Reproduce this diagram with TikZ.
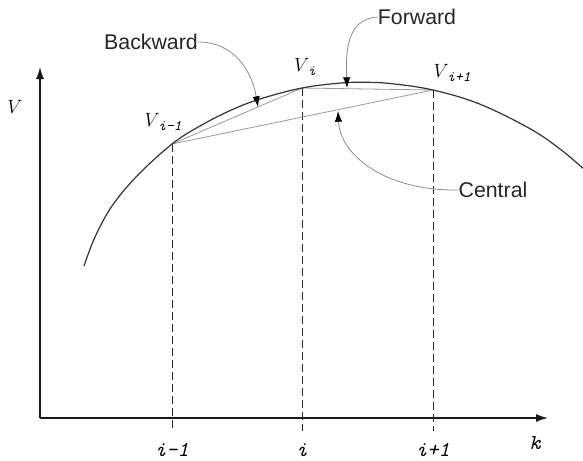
\documentclass[tikz,border=0pt]{standalone}
\usepackage{fontspec}
\newfontfamily\labelfont{Liberation Sans}
\usetikzlibrary{arrows.meta}
\newcommand\vsubtxt[1]{{\fontsize{11}{12}\selectfont\ttfamily\itshape #1}}
\begin{document}
\begin{tikzpicture}[x=0.75pt,y=-0.75pt,
  curve/.style={draw=black!80, line width=0.9pt},
  chord/.style={draw=black!40, line width=0.6pt},
  guide/.style={draw=black!85, line width=0.5pt, dash pattern=on 6pt off 3pt},
  axis/.style={draw=black!90, line width=1pt, -{Latex[length=9pt,width=6pt]}},
  note/.style={draw=black!45, line width=0.6pt, -{Latex[length=8pt,width=5.5pt,color=black]}},
  word/.style={font=\labelfont\fontsize{16}{18}\selectfont, text=black!85, inner sep=0pt},
  tick/.style={font=\fontsize{16}{18}\selectfont\ttfamily\itshape, inner sep=0pt},
  vlab/.style={inner sep=0pt, font=\fontsize{14}{16}\selectfont}]
\useasboundingbox (0,0) rectangle (583,461);

% axes
\coordinate (O) at (40,418);
\coordinate (ytop) at (40,67);
\coordinate (xend) at (548,418);
\draw[axis] (O) -- (ytop);
\draw[axis] (O) -- (xend);

% points
\coordinate (pm) at (172,144);
\coordinate (pi) at (302,88);
\coordinate (pp) at (433,90);
\coordinate (bm) at (172,431);
\coordinate (bi) at (302,431);
\coordinate (bp) at (433,431);

% dashed guides
\draw[guide] (pm) -- (bm);
\draw[guide] (pi) -- (bi);
\draw[guide] (pp) -- (bp);

% chords
\draw[chord] (pm) -- (pi);
\draw[chord] (pi) -- (pp);
\draw[chord] (pm) -- (pp);

% curve
\draw[curve] plot[smooth, tension=0.6] coordinates {(84,266) (95,237) (112,206) (137,176) (172,144) (200,126) (230,110.6) (260,99) (302,88) (340,83.1) (362.6,82.3) (390,83.5) (433,90) (480,104.2) (530,128.7) (560,149) (583,168.3)};

% labels
\node[vlab] (lV) at (15,107) {$V$};
\node[tick] (lk) at (535,443) {k};
\node[tick] (tm) at (172,450) {i-1};
\node[tick] (ti) at (302,450) {i};
\node[tick] (tp) at (433,450) {i+1};
\node[vlab] (lm) at (163,122) {$V$\hspace{-1pt}\raisebox{-3.5pt}{\vsubtxt{i-1}}};
\node[vlab] (li) at (305,67) {$V$\hspace{-1pt}\raisebox{-3.5pt}{\vsubtxt{i}}};
\node[vlab] (lp) at (452,73) {$V$\hspace{-1pt}\raisebox{-3.5pt}{\vsubtxt{i+1}}};

% annotations
\node[word] (back) at (151,42) {Backward};
\node[word] (fwd) at (417,17) {Forward};
\node[word] (cen) at (493,190) {Central};
\coordinate (tb) at (258,107);
\coordinate (tf) at (347,88);
\coordinate (tc) at (338,111);
\draw[note] (back.east) .. controls (235,42) and (252,72) .. (tb);
\draw[note] (fwd.west) .. controls (345,19) and (346,55) .. (tf);
\draw[note] (cen.west) .. controls (385,191) and (340,155) .. (tc);
\end{tikzpicture}
\end{document}
